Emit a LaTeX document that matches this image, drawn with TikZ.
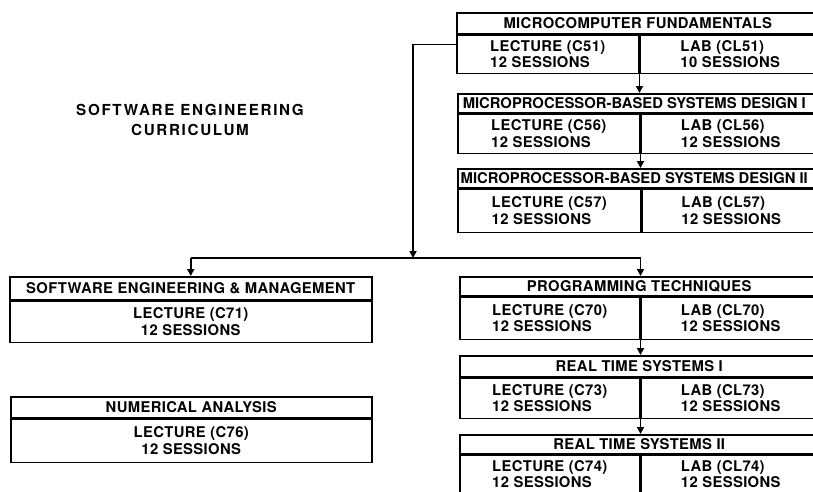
\documentclass[tikz,border=0pt]{standalone}
\usepackage{fontspec}
\setmainfont{TeX Gyre Heros}[LetterSpace=2.5]
\usetikzlibrary{arrows.meta}
\newcommand{\cfont}{\fontsize{14.8}{16.5}\selectfont\bfseries}
\newcommand{\nfont}{\addfontfeatures{LetterSpace=0}}
\newcommand{\tfont}{\fontsize{15.2}{20}\selectfont\bfseries\addfontfeatures{LetterSpace=11}}
\tikzset{
  cell/.style={draw, line width=1.5pt, rectangle, inner sep=0pt, anchor=north west, font=\cfont, align=left},
  conn/.style={line width=1.9pt},
  arr/.style={line width=1.9pt, -{Triangle[length=7pt,width=7pt]}},
}
\begin{document}
\begin{tikzpicture}[x=1pt,y=-1pt]
\useasboundingbox (0,0) rectangle (813,491);
\clip (0,0) rectangle (813,491);
% title
\node[font=\tfont, align=center] (ttl) at (190,120) {SOFTWARE ENGINEERING\\CURRICULUM};
% Microcomputer fundamentals
\node[cell, minimum width=362pt, minimum height=21pt, align=center] (mfT) at (456,12) {MICROCOMPUTER FUNDAMENTALS};
\node[cell, minimum width=182pt, minimum height=38pt] (mfL) at (mfT.south west) {LECTURE (C51)\\12 SESSIONS};
\node[cell, minimum width=180pt, minimum height=38pt] (mfR) at (mfL.north east) {LAB (CL51)\\10 SESSIONS};
% MBSD I
\node[cell, minimum width=361pt, minimum height=19pt, align=center] (d1T) at (457,93) {\hspace*{-8pt}\nfont MICROPROCESSOR-BASED SYSTEMS DESIGN I};
\node[cell, minimum width=182pt, minimum height=39pt] (d1L) at (d1T.south west) {LECTURE (C56)\\12 SESSIONS};
\node[cell, minimum width=179pt, minimum height=39pt] (d1R) at (d1L.north east) {LAB (CL56)\\12 SESSIONS};
% MBSD II
\node[cell, minimum width=361pt, minimum height=19pt, align=center] (d2T) at (457,168) {\hspace*{-8pt}\nfont MICROPROCESSOR-BASED SYSTEMS DESIGN II};
\node[cell, minimum width=183pt, minimum height=43pt] (d2L) at (d2T.south west) {LECTURE (C57)\\12 SESSIONS};
\node[cell, minimum width=178pt, minimum height=43pt] (d2R) at (d2L.north east) {LAB (CL57)\\12 SESSIONS};
% Software engineering & management
\node[cell, minimum width=362pt, minimum height=23pt, align=center] (seT) at (9,276) {SOFTWARE ENGINEERING \& MANAGEMENT};
\node[cell, minimum width=362pt, minimum height=41pt, align=center] (seL) at (seT.south west) {LECTURE (C71)\\12 SESSIONS};
% Numerical analysis
\node[cell, minimum width=361pt, minimum height=21pt, align=center] (naT) at (10,396) {NUMERICAL ANALYSIS};
\node[cell, minimum width=361pt, minimum height=43pt, align=center] (naL) at (naT.south west) {LECTURE (C76)\\12 SESSIONS};
% Programming techniques
\node[cell, minimum width=359pt, minimum height=19pt, align=center] (ptT) at (459,276) {PROGRAMMING TECHNIQUES};
\node[cell, minimum width=180pt, minimum height=42pt] (ptL) at (ptT.south west) {LECTURE (C70)\\12 SESSIONS};
\node[cell, minimum width=179pt, minimum height=42pt] (ptR) at (ptL.north east) {LAB (CL70)\\12 SESSIONS};
% Real time systems I
\node[cell, minimum width=359pt, minimum height=21pt, align=center] (r1T) at (459,355) {REAL TIME SYSTEMS I};
\node[cell, minimum width=180pt, minimum height=40pt] (r1L) at (r1T.south west) {LECTURE (C73)\\12 SESSIONS};
\node[cell, minimum width=179pt, minimum height=40pt] (r1R) at (r1L.north east) {LAB (CL73)\\12 SESSIONS};
% Real time systems II
\node[cell, minimum width=359pt, minimum height=19pt, align=center] (r2T) at (459,434) {REAL TIME SYSTEMS II};
\node[cell, minimum width=180pt, minimum height=38pt] (r2L) at (r2T.south west) {LECTURE (C74)\\12 SESSIONS};
\node[cell, minimum width=179pt, minimum height=38pt] (r2R) at (r2L.north east) {LAB (CL74)\\12 SESSIONS};
% connectors
\draw[arr] (mfL.south east) -- (d1T.north -| mfL.south east);
\draw[arr] (d1L.south east) -- (d2T.north -| d1L.south east);
\draw[arr] (ptL.south east) -- (r1T.north -| ptL.south east);
\draw[arr] (r1L.south east) -- (r2T.north -| r1L.south east);
\coordinate (hub) at (413,258);
\draw[arr] ([yshift=-10pt]mfL.north west) -| (hub);
\draw[conn] (seT.north |- hub) -- (ptL.north east |- hub);
\draw[arr] (seT.north |- hub) -- (seT.north);
\draw[arr] (ptL.north east |- hub) -- (ptT.north -| ptL.north east);
\end{tikzpicture}
\end{document}
